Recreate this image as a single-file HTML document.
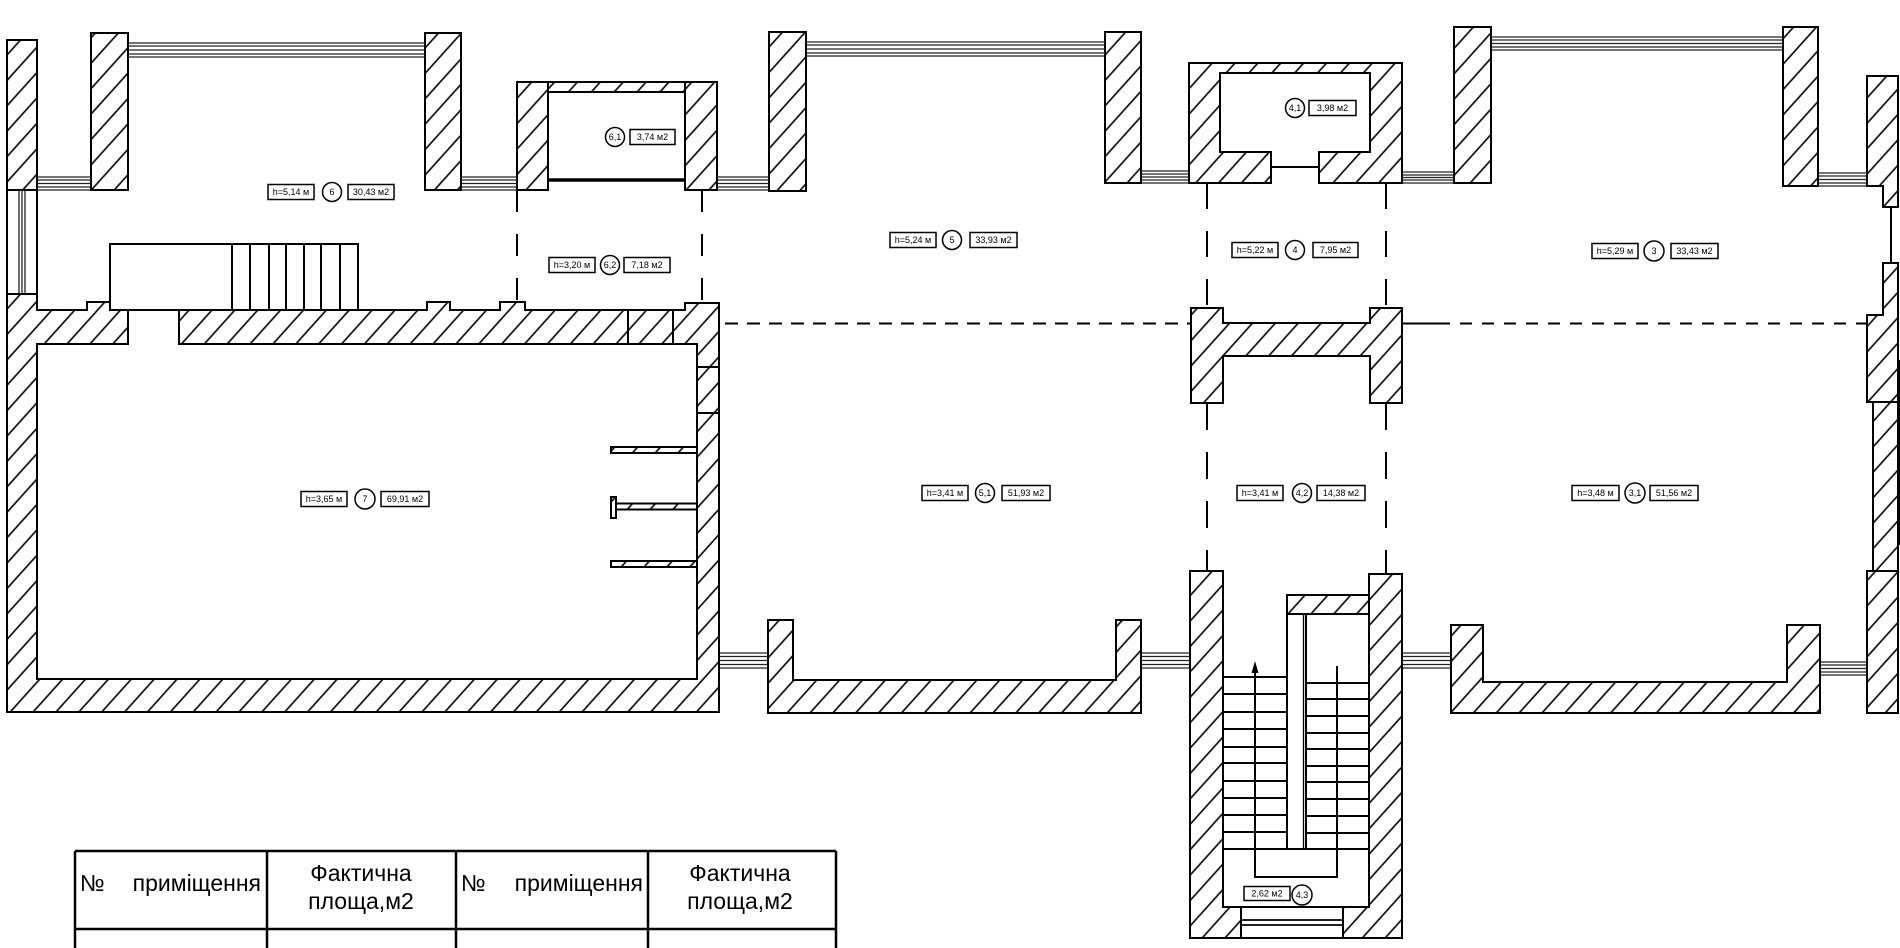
<!DOCTYPE html>
<html><head><meta charset="utf-8">
<style>
html,body{margin:0;padding:0;background:#fff;}
svg{display:block;}
.w{fill:url(#h);stroke:#000;stroke-width:2;stroke-linejoin:miter;}
.o{fill:none;stroke:#000;stroke-width:2;}
.win{fill:none;stroke:#222;stroke-width:1.3;}
.d{fill:none;stroke:#000;stroke-width:2;}
.lb rect,.lb circle{fill:#fff;stroke:#000;stroke-width:1.5;}
.lb text{font-family:"Liberation Sans",sans-serif;font-size:9px;text-anchor:middle;fill:#000;}
.t{font-family:"Liberation Sans","Noto Sans CJK SC",sans-serif;font-size:23px;fill:#000;}
</style></head>
<body>
<svg width="1900" height="948" viewBox="0 0 1900 948" xmlns="http://www.w3.org/2000/svg">
<defs>
<pattern id="h" patternUnits="userSpaceOnUse" width="17" height="17" patternTransform="rotate(42)">
<rect x="0" y="0" width="17" height="17" fill="#fff"/>
<line x1="8" y1="-1" x2="8" y2="18" stroke="#000" stroke-width="1.6"/>
</pattern>
</defs>
<rect width="1900" height="948" fill="#fff"/>

<!-- TOP ROW PIERS -->
<rect class="w" x="7" y="40" width="30" height="150"/>
<rect class="w" x="91" y="33" width="37" height="157"/>
<rect class="w" x="425" y="33" width="36" height="157"/>
<!-- box 6.1 -->
<rect class="w" x="517" y="82" width="31" height="108"/>
<rect class="w" x="548" y="82" width="137" height="10"/>
<rect class="w" x="685" y="82" width="32" height="108"/>
<path d="M548 180H685" stroke="#000" stroke-width="3.5"/>
<rect class="w" x="769" y="32" width="37" height="159"/>
<rect class="w" x="1105" y="32" width="36" height="151"/>
<!-- box 4.1 -->
<path class="w" d="M1189 63H1402V183H1319V152H1370V73H1220V152H1271V183H1189Z"/>
<path d="M1271 167H1319" stroke="#000" stroke-width="2"/>
<rect class="w" x="1454" y="27" width="37" height="156"/>
<rect class="w" x="1783" y="27" width="35" height="159"/>
<path class="w" d="M1867 76H1898V186H1898V207H1883V186H1867Z"/>
<path d="M1891 207V263" stroke="#000" stroke-width="2"/>
<path class="w" d="M1883 263H1898V713H1867V571H1873V402H1867V315H1883Z"/>
<path d="M1873 402H1898M1873 571H1898M1899 360V545" stroke="#000" stroke-width="2"/>

<!-- WINDOWS -->
<path class="win" d="M128 43H425M128 46H425M128 50H425M128 54H425M128 57H425"/>
<path class="win" d="M37 177H91M37 180H91M37 183.5H91M37 187H91M37 190H91"/>
<path class="win" d="M461 177H517M461 180H517M461 183.5H517M461 187H517M461 190H517"/>
<path class="win" d="M717 177H769M717 180H769M717 183.5H769M717 187H769M717 190H769"/>
<path class="win" d="M806 42H1105M806 45H1105M806 49H1105M806 53H1105M806 56H1105"/>
<path class="win" d="M1141 171H1189M1141 174H1189M1141 177H1189M1141 180H1189M1141 183H1189"/>
<path class="win" d="M1402 172H1454M1402 175H1454M1402 177.5H1454M1402 180H1454M1402 183H1454"/>
<path class="win" d="M1491 37H1783M1491 40H1783M1491 43.5H1783M1491 47H1783M1491 50H1783"/>
<path class="win" d="M1818 173H1867M1818 176H1867M1818 179.5H1867M1818 183H1867M1818 186H1867"/>
<path class="win" d="M720 653H768M720 656.5H768M720 660.5H768M720 664.5H768M720 668H768"/>
<path class="win" d="M1141 653H1190M1141 656.5H1190M1141 660.5H1190M1141 664.5H1190M1141 668H1190"/>
<path class="win" d="M1402 653H1451M1402 656.5H1451M1402 660.5H1451M1402 664.5H1451M1402 668H1451"/>
<path class="win" d="M1820 662H1867M1820 665H1867M1820 668.5H1867M1820 672H1867M1820 675H1867"/>
<path class="o" d="M7 190V294M37 190V294"/>
<path class="win" d="M19 190V294M22 190V294M25 190V294"/>

<!-- STAIR (room 6) -->
<rect class="o" x="110" y="244" width="248" height="66" fill="#fff"/>
<path class="o" stroke-width="1.8" d="M232 244V310M250 244V310M269 244V310M286 244V310M304 244V310M321 244V310M340 244V310"/>

<!-- ROOM 7 WALLS -->
<path class="w" d="M7 294H37V310H87V302H110V310H128V344H37V679H697V344H179V310H427V302H450V310H500V302H525V310H685V303H719V712H7Z"/>
<path d="M628 310V344M673 310V344M697 367H719M697 413H719" stroke="#000" stroke-width="2"/>
<!-- shelves -->
<rect class="w" x="611" y="447" width="86" height="6" stroke-width="1.5"/>
<rect class="w" x="611" y="503.5" width="86" height="6" stroke-width="1.5"/>
<rect class="w" x="611" y="497" width="5" height="21" stroke-width="1.5"/>
<rect class="w" x="611" y="561" width="86" height="6" stroke-width="1.5"/>

<!-- DASHED LINES -->
<path class="d" stroke-dasharray="22 22" d="M517 190V303M702 190V303"/>
<path class="d" stroke-dasharray="26 22" d="M1207 183V308M1386 183V308"/>
<path class="d" stroke-dasharray="27 22" d="M1207 403V571M1386 403V574"/>
<path class="d" stroke-dasharray="13 9" d="M725 323.5H1191"/>
<path class="d" d="M1402 323.5H1450"/>
<path class="d" stroke-dasharray="12 10" d="M1460 323.5H1867"/>

<!-- central pier block -->
<path class="w" d="M1191 308H1223V323H1370V308H1402V403H1370V356H1223V403H1191Z"/>

<!-- ROOM 5.1 bottom U -->
<path class="w" d="M768 620H793V680H1116V620H1141V713H768Z"/>
<!-- ROOM 3.1 bottom U -->
<path class="w" d="M1451 625H1483V682H1787V625H1820V713H1451Z"/>

<!-- STAIR TOWER -->
<path class="w" d="M1190 571H1223V907H1241V938H1190Z"/>
<path class="w" d="M1369 574H1402V938H1343V907H1369Z"/>
<rect class="o" x="1241" y="907" width="102" height="31" fill="#fff"/>
<path d="M1241 920H1343M1241 925H1343" stroke="#000" stroke-width="1.8"/>
<path class="o" d="M1223 907H1369"/>
<rect class="w" x="1287" y="595" width="82" height="19"/>
<rect class="o" x="1287" y="614" width="19" height="235" fill="#fff"/>
<path d="M1303.5 614V849" stroke="#000" stroke-width="1.3"/>
<path class="o" stroke-width="1.8" d="M1223 677H1287M1223 694H1287M1223 712H1287M1223 729H1287M1223 747H1287M1223 763H1287M1223 781H1287M1223 798H1287M1223 815H1287M1223 832H1287M1223 849H1369"/>
<path class="o" stroke-width="1.8" d="M1306 683H1369M1306 699H1369M1306 716H1369M1306 733H1369M1306 749H1369M1306 766H1369M1306 782H1369M1306 799H1369M1306 816H1369M1306 833H1369"/>
<path class="o" stroke-width="2" d="M1255 668V877H1337V666"/>
<path d="M1255 661L1251.5 673H1258.5Z" fill="#000"/>

<!-- LABELS -->
<g class="lb">
<rect x="268" y="184.5" width="46" height="15"/><text x="291" y="195">h=5,14 м</text>
<circle cx="332" cy="192" r="9.5"/><text x="332" y="195">6</text>
<rect x="348" y="184.5" width="46" height="15"/><text x="371" y="195">30,43 м2</text>

<circle cx="615" cy="137" r="9.5"/><text x="615" y="140">6,1</text>
<rect x="630" y="129.5" width="45" height="15"/><text x="652.5" y="140">3,74 м2</text>

<rect x="549" y="257.5" width="46" height="15"/><text x="572" y="268">h=3,20 м</text>
<circle cx="610" cy="265" r="9.5"/><text x="610" y="268">6,2</text>
<rect x="624" y="257.5" width="46" height="15"/><text x="647" y="268">7,18 м2</text>

<rect x="890" y="232.5" width="46" height="15"/><text x="913" y="243">h=5,24 м</text>
<circle cx="952" cy="240" r="9.5"/><text x="952" y="243">5</text>
<rect x="970" y="232.5" width="47" height="15"/><text x="993.5" y="243">33,93 м2</text>

<circle cx="1295" cy="108" r="9.5"/><text x="1295" y="111">4,1</text>
<rect x="1309" y="100.5" width="47" height="15"/><text x="1332.5" y="111">3,98 м2</text>

<rect x="1232" y="242.5" width="46" height="15"/><text x="1255" y="253">h=5,22 м</text>
<circle cx="1295" cy="250" r="9.5"/><text x="1295" y="253">4</text>
<rect x="1313" y="242.5" width="45" height="15"/><text x="1335.5" y="253">7,95 м2</text>

<rect x="1592" y="243.5" width="46" height="15"/><text x="1615" y="254">h=5,29 м</text>
<circle cx="1654" cy="251" r="10"/><text x="1654" y="254">3</text>
<rect x="1671" y="243.5" width="47" height="15"/><text x="1694.5" y="254">33,43 м2</text>

<rect x="301" y="491.5" width="46" height="15"/><text x="324" y="502">h=3,65 м</text>
<circle cx="365" cy="499" r="10"/><text x="365" y="502">7</text>
<rect x="381" y="491.5" width="48" height="15"/><text x="405" y="502">69,91 м2</text>

<rect x="922" y="485.5" width="46" height="15"/><text x="945" y="496">h=3,41 м</text>
<circle cx="985" cy="493" r="9.5"/><text x="985" y="496">5,1</text>
<rect x="1002" y="485.5" width="48" height="15"/><text x="1026" y="496">51,93 м2</text>

<rect x="1237" y="485.5" width="46" height="15"/><text x="1260" y="496">h=3,41 м</text>
<circle cx="1302" cy="493" r="9.5"/><text x="1302" y="496">4,2</text>
<rect x="1317" y="485.5" width="48" height="15"/><text x="1341" y="496">14,38 м2</text>

<rect x="1572" y="485.5" width="47" height="15"/><text x="1595.5" y="496">h=3,48 м</text>
<circle cx="1635" cy="493" r="10"/><text x="1635" y="496">3,1</text>
<rect x="1650" y="485.5" width="48" height="15"/><text x="1674" y="496">51,56 м2</text>

<rect x="1244" y="886.5" width="46" height="14"/><text x="1267" y="896.5">2,62 м2</text>
<circle cx="1302" cy="895" r="10"/><text x="1302" y="898">4,3</text>
</g>

<!-- TABLE -->
<path d="M75 851H836M75 929H836M75 851V948M267 851V948M456 851V948M648 851V948M836 851V948" stroke="#000" stroke-width="2.5" fill="none"/>
<text class="t" x="80" y="891">№</text>
<text class="t" x="261" y="891" text-anchor="end">приміщення</text>
<text class="t" x="361" y="881" text-anchor="middle">Фактична</text>
<text class="t" x="361" y="909" text-anchor="middle">площа,м2</text>
<text class="t" x="461" y="891">№</text>
<text class="t" x="643" y="891" text-anchor="end">приміщення</text>
<text class="t" x="740" y="881" text-anchor="middle">Фактична</text>
<text class="t" x="740" y="909" text-anchor="middle">площа,м2</text>
</svg>
</body></html>
